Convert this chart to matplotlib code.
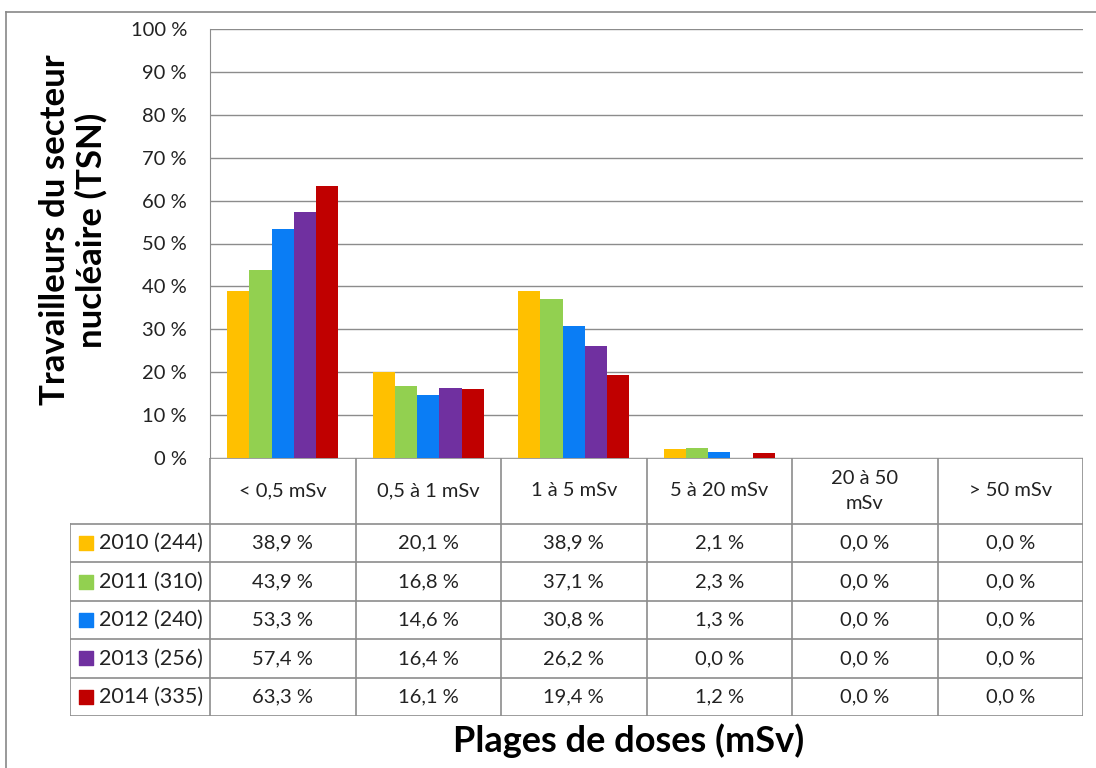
import matplotlib.pyplot as plt
import numpy as np

plt.rcParams['font.family'] = ['Lato', 'DejaVu Sans']

categories = ['< 0,5 mSv', '0,5 à 1 mSv', '1 à 5 mSv', '5 à 20 mSv', '20 à 50\nmSv', '> 50 mSv']
series = ['2010 (244)', '2011 (310)', '2012 (240)', '2013 (256)', '2014 (335)']
values = [
    [38.9, 20.1, 38.9, 2.1, 0.0, 0.0],
    [43.9, 16.8, 37.1, 2.3, 0.0, 0.0],
    [53.3, 14.6, 30.8, 1.3, 0.0, 0.0],
    [57.4, 16.4, 26.2, 0.0, 0.0, 0.0],
    [63.3, 16.1, 19.4, 1.2, 0.0, 0.0],
]
colors = ['#FFC000', '#92D050', '#0A7DF5', '#7030A0', '#C00000']
yticks = np.arange(0, 101, 10)

W, H = 1096, 768
fig = plt.figure(figsize=(W / 100, H / 100), dpi=100)

def box(x0, y0, x1, y1):
    # pixel box (top-left origin) -> figure fraction rect
    return [x0 / W, 1 - y1 / H, (x1 - x0) / W, (y1 - y0) / H]

grid_c = '#8C8C8C'
txt_c = '#222222'

# --- bar chart ---
ax = fig.add_axes(box(210, 29, 1083, 458))
n = len(series)
x = np.arange(len(categories))
bw = 0.765 / n
for i, (name, vals) in enumerate(zip(series, values)):
    ax.bar(x + (i - (n - 1) / 2) * bw, vals, width=bw, color=colors[i], zorder=3)
ax.set_xlim(-0.5, len(categories) - 0.5)
ax.set_ylim(0, 100)
ax.set_yticks(yticks)
ax.set_yticklabels([f'{t} %' for t in yticks], fontsize=14.5, color=txt_c)
ax.set_xticks([])
ax.grid(axis='y', color=grid_c, lw=1, zorder=0)
for s in ['top', 'right', 'bottom']:
    ax.spines[s].set_visible(False)
ax.spines['left'].set_color(grid_c)
ax.tick_params(axis='y', length=0, pad=16.5)

# --- data table ---
lab_w = 140 / 145.5
tab = fig.add_axes(box(70, 458, 1083, 716))
tab.set_xlim(-0.5 - lab_w, len(categories) - 0.5)
tab.set_ylim(258, 0)
tab.axis('off')
hdr = 66
rh = (258 - hdr) / n
lc = dict(color=grid_c, lw=1.2)
tab.plot([-0.5, len(categories) - 0.5], [0, 0], **lc)
for c in range(len(categories) + 1):
    tab.plot([c - 0.5, c - 0.5], [0, 258], **lc)
tab.plot([-0.5 - lab_w, -0.5 - lab_w], [hdr, 258], **lc)
for r in range(n + 1):
    tab.plot([-0.5 - lab_w, len(categories) - 0.5], [hdr + r * rh] * 2, **lc)
for c, cat in enumerate(categories):
    tab.text(c, hdr / 2, cat, ha='center', va='center', fontsize=14.5,
             color=txt_c, linespacing=1.6)
for r, name in enumerate(series):
    yc = hdr + (r + 0.5) * rh
    tab.scatter(-0.5 - lab_w + 0.11, yc, marker='s', s=100, color=colors[r], clip_on=False)
    tab.text(-0.5 - lab_w + 0.2, yc, name, ha='left', va='center', fontsize=15.5, color=txt_c)
    for c, v in enumerate(values[r]):
        tab.text(c, yc, f'{v:.1f} %'.replace('.', ','), ha='center', va='center',
                 fontsize=14.5, color=txt_c)

# axis titles
fig.text(73 / W, 1 - 230 / H, 'Travailleurs du secteur\nnucléaire (TSN)', rotation=90,
         ha='center', va='center', fontsize=25, fontweight='bold', linespacing=1.15)
fig.text(629 / W, 1 - 741 / H, 'Plages de doses (mSv)', ha='center', va='center',
         fontsize=26, fontweight='bold')

# outer frame
fig.add_artist(plt.Line2D([6 / W, 1], [1 - 12 / H] * 2, color='#888888', lw=1.2))
fig.add_artist(plt.Line2D([6 / W, 6 / W], [0, 1 - 12 / H], color='#888888', lw=1.2))

fig.savefig('out.png', dpi=100)
